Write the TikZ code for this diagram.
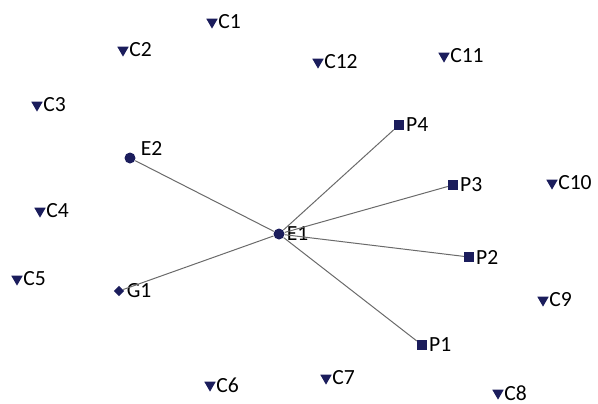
\documentclass[tikz,border=0pt]{standalone}
\usepackage{fontspec}
\setmainfont{Carlito}
\usetikzlibrary{shapes.geometric}
\definecolor{navy}{HTML}{1B1D5C}
\definecolor{linkgray}{HTML}{6A6A6A}
\tikzset{
  lbl/.style={font=\fontsize{10.8}{12}\selectfont, inner sep=0.5pt, label distance=0.3pt},
  cnode/.style={regular polygon, regular polygon sides=3, shape border rotate=180,
    fill=navy, inner sep=0pt, minimum size=6.6pt},
  enode/.style={circle, fill=navy, inner sep=0pt, minimum size=5.5pt},
  pnode/.style={rectangle, fill=navy, inner sep=0pt, minimum size=4.8pt},
  gnode/.style={diamond, fill=navy, inner sep=0pt, minimum size=5.4pt},
  link/.style={draw=linkgray, line width=0.5pt}
}
\begin{document}
\begin{tikzpicture}[x=0.5pt, y=-0.5pt]
\useasboundingbox (0,0) rectangle (598,403);

% kunden
\node[cnode, label={[lbl]right:C1}] (c1) at (212,22) {};
\node[cnode, label={[lbl]right:C2}] (c2) at (123,50) {};
\node[cnode, label={[lbl]right:C3}] (c3) at (37,105) {};
\node[cnode, label={[lbl]right:C4}] (c4) at (40,211) {};
\node[cnode, label={[lbl]right:C5}] (c5) at (17,279) {};
\node[cnode, label={[lbl]right:C6}] (c6) at (210,385) {};
\node[cnode, label={[lbl]right:C7}] (c7) at (326,378) {};
\node[cnode, label={[lbl]right:C8}] (c8) at (498,393) {};
\node[cnode, label={[lbl]right:C9}] (c9) at (543,300) {};
\node[cnode, label={[lbl]right:C10}] (c10) at (552,183) {};
\node[cnode, label={[lbl]right:C11}] (c11) at (444,56) {};
\node[cnode, label={[lbl]right:C12}] (c12) at (318,62) {};

% zentrale knoten
\node[enode, label={[lbl]right:E1}] (e1) at (279,234) {};
\node[enode, label={[lbl, xshift=1.5pt, yshift=5pt]right:E2}] (e2) at (130,158) {};
\node[gnode, label={[lbl]right:G1}] (g1) at (119,291) {};

% produkte
\node[pnode, label={[lbl]right:P1}] (p1) at (422,345) {};
\node[pnode, label={[lbl]right:P2}] (p2) at (469,257) {};
\node[pnode, label={[lbl]right:P3}] (p3) at (453,185) {};
\node[pnode, label={[lbl]right:P4}] (p4) at (399,125) {};

% verbindungen
\foreach \t in {e2,g1,p1,p2,p3,p4}
  \draw[link] (e1) -- (\t);
\end{tikzpicture}
\end{document}
